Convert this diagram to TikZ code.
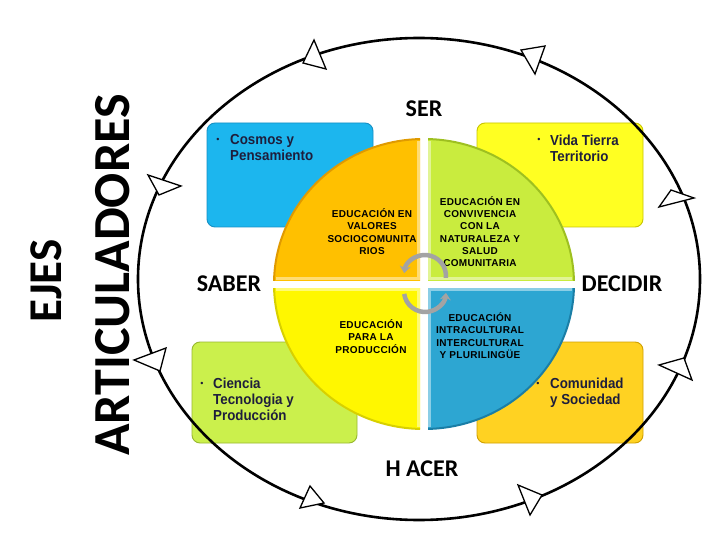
\documentclass[tikz,border=0pt]{standalone}
\usepackage{fontspec}
\setmainfont{Liberation Sans}
\newfontfamily\headfont{Carlito}
\newfontfamily\boxfont[FakeStretch=0.92]{Liberation Sans}
\newfontfamily\quadfont[LetterSpace=3]{Liberation Sans}
\usetikzlibrary{arrows.meta}
\definecolor{bxblue}{HTML}{1CB6EE}
\definecolor{bxblueD}{HTML}{1690C4}
\definecolor{bxyel}{HTML}{FFFF22}
\definecolor{bxyelD}{HTML}{C8C400}
\definecolor{bxgreen}{HTML}{CBF04C}
\definecolor{bxgreenD}{HTML}{98B830}
\definecolor{bxgold}{HTML}{FFD222}
\definecolor{bxgoldD}{HTML}{D0A000}
\definecolor{qorange}{HTML}{FFC000}
\definecolor{qorangeD}{HTML}{E09A00}
\definecolor{qlime}{HTML}{C9EC3E}
\definecolor{qlimeD}{HTML}{9EC020}
\definecolor{qyel}{HTML}{FFF700}
\definecolor{qyelD}{HTML}{D8D000}
\definecolor{qblue}{HTML}{2DA6D2}
\definecolor{qblueD}{HTML}{1A7EA6}
\definecolor{boxtext}{HTML}{1E1E3C}
\definecolor{arcgray}{HTML}{A3A3A3}
\tikzset{
  hd/.style={font=\headfont\bfseries\fontsize{24}{26}\selectfont, inner sep=0pt},
  bx/.style={rounded corners=8pt, line width=0.9pt},
  bt/.style={font=\boxfont\bfseries\fontsize{14.5}{16}\selectfont, text=boxtext, align=left, anchor=north west, inner sep=0pt},
  bul/.style={font=\fontsize{9}{9}\selectfont, text=boxtext, anchor=base, inner sep=0pt},
  qt/.style={font=\quadfont\bfseries\fontsize{10}{12.3}\selectfont, align=center, inner sep=0pt},
  tri/.style={draw=black, fill=white, line width=1.3pt, line join=miter},
  refresh/.style={draw=arcgray, line width=4.5pt, -{Stealth[length=7pt,width=11pt]}},
  bevel/.style={white, opacity=0.45, line width=3pt}
}
\begin{document}
\begin{tikzpicture}[x=1pt,y=-1pt]
\useasboundingbox (0,0) rectangle (720,540);
\fill[white] (0,0) rectangle (720,540);

% side titles
\node[font=\headfont\bfseries\fontsize{47}{50}\selectfont, rotate=90, inner sep=0pt] (ejes) at (46,281) {EJES};
\node[font=\headfont\bfseries\fontsize{52}{55}\selectfont, rotate=90, inner sep=0pt] (artic) at (113,275) {ARTICULADORES};

% corner boxes
\filldraw[bx, fill=bxblue, draw=bxblueD] (207,123) rectangle (373,227);
\filldraw[bx, fill=bxyel, draw=bxyelD] (477,123) rectangle (643,227);
\filldraw[bx, fill=bxgreen, draw=bxgreenD] (192,342) rectangle (357,443);
\filldraw[bx, fill=bxgold, draw=bxgoldD] (477,342) rectangle (643,443);

\node[bul] (b1) at (218,143) {•};
\node[bt] (t1) at (230,134.5) {Cosmos y\\Pensamiento};
\node[bul] (b2) at (539,143) {•};
\node[bt] (t2) at (550,134.5) {Vida Tierra\\Territorio};
\node[bul] (b3) at (202,386) {•};
\node[bt] (t3) at (213,377.5) {Ciencia\\Tecnologia y\\Producción};
\node[bul] (b4) at (538,386) {•};
\node[bt] (t4) at (550,377.5) {Comunidad\\y Sociedad};

% central circle quadrants
\begin{scope}
  \clip (0,0) rectangle (420,280);
  \filldraw[fill=qorange, draw=qorangeD, line width=2pt] (424,284) ellipse [x radius=150pt, y radius=145pt];
\end{scope}
\begin{scope}
  \clip (428,0) rectangle (720,280);
  \filldraw[fill=qlime, draw=qlimeD, line width=2pt] (424,284) ellipse [x radius=150pt, y radius=145pt];
\end{scope}
\begin{scope}
  \clip (0,288) rectangle (420,540);
  \filldraw[fill=qyel, draw=qyelD, line width=2pt] (424,284) ellipse [x radius=150pt, y radius=145pt];
\end{scope}
\begin{scope}
  \clip (428,288) rectangle (720,540);
  \filldraw[fill=qblue, draw=qblueD, line width=2pt] (424,284) ellipse [x radius=150pt, y radius=145pt];
\end{scope}
% light bevel along the straight edges
\draw[bevel] (418.5,141) -- (418.5,278.5) -- (276,278.5);
\draw[bevel] (429.5,141) -- (429.5,278.5) -- (572,278.5);
\draw[bevel] (418.5,427) -- (418.5,289.5) -- (276,289.5);
\draw[bevel] (429.5,427) -- (429.5,289.5) -- (572,289.5);

\node[qt] (q1) at (372,231.5) {EDUCACIÓN EN\\VALORES\\SOCIOCOMUNITA\\RIOS};
\node[qt] (q2) at (480,231.5) {EDUCACIÓN EN\\CONVIVENCIA\\CON LA\\NATURALEZA Y\\SALUD\\COMUNITARIA};
\node[qt] (q3) at (371,336.5) {EDUCACIÓN\\PARA LA\\PRODUCCIÓN};
\node[qt] (q4) at (480,335.5) {EDUCACIÓN\\INTRACULTURAL\\INTERCULTURAL\\Y PLURILINGÜE};

% refresh arcs
\draw[refresh] (425,276) ++(-5:21pt) arc[start angle=-5, end angle=172, radius=21pt];
\draw[refresh] (425,291) ++(188:21pt) arc[start angle=188, end angle=355, radius=21pt];

% headings
\node[hd] (ser) at (424,109) {SER};
\node[hd] (saber) at (229,284) {SABER};
\node[hd] (decidir) at (622,284) {DECIDIR};
\node[hd] (hacer) at (422,469) {H ACER};

% outer loop
\draw[line width=2.6pt] (419,279) ellipse [x radius=281pt, y radius=241pt];

% open triangle marks
\filldraw[tri] (314,40) -- (303,63) -- (326,69) -- cycle;
\filldraw[tri] (521,50) -- (545,46) -- (535,74) -- cycle;
\filldraw[tri] (671,190) -- (694,198) -- (659,207) -- cycle;
\filldraw[tri] (659,365) -- (684,358) -- (692,380) -- cycle;
\filldraw[tri] (518,485) -- (542,495) -- (530,515) -- cycle;
\filldraw[tri] (310,486) -- (300,508) -- (324,503) -- cycle;
\filldraw[tri] (134,360) -- (166,348) -- (160,371) -- cycle;
\filldraw[tri] (148,175) -- (181,186) -- (159,195) -- cycle;
\end{tikzpicture}
\end{document}
